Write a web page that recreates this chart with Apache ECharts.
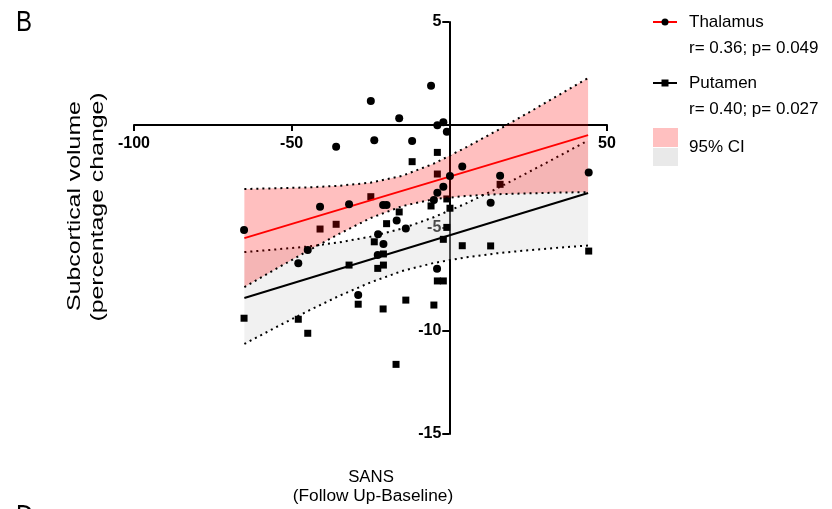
<!DOCTYPE html>
<html>
<head>
<meta charset="utf-8">
<script src="https://cdn.jsdelivr.net/npm/echarts@6/dist/echarts.min.js"></script>
<style>
    html, body { margin: 0; padding: 0; background: #fff; }
    #chart { width: 832px; height: 509px; }
</style>
</head>
<body>
<div id="chart"></div>
<script>
// SANS change vs. subcortical volume change
const thalamusPoints = [
    [-65.1, -5.10], [-47.9, -6.71], [-44.9, -6.07], [-41.0, -3.97], [-35.9, -1.05],
    [-31.8, -3.85], [-28.9, -8.25], [-24.9, 1.17], [-23.8, -0.74], [-22.6, -5.30],
    [-20.9, -5.78], [-22.7, -6.31], [-21.0, -3.88], [-19.9, -3.88], [-16.7, -4.64],
    [-15.9, 0.33], [-13.8, -5.02], [-11.8, -0.78], [-5.8, 1.91], [-4.9, -3.64],
    [-3.8, -0.01], [-3.8, -3.29], [-3.9, -6.98], [-1.9, 0.13], [-1.9, -3.00],
    [-0.8, -0.33], [0.2, -2.48], [4.1, -2.02], [13.1, -3.77], [16.1, -2.46],
    [44.2, -2.30]
];
const putamenPoints = [
    [-65.1, -9.38], [-47.9, -9.43], [-44.9, -10.11], [-41.0, -5.05], [-35.9, -4.82],
    [-31.8, -6.80], [-28.9, -8.70], [-24.9, -3.48], [-23.8, -5.67], [-22.7, -6.96],
    [-20.9, -6.26], [-20.9, -6.80], [-21.0, -8.93], [-19.9, -4.79], [-16.9, -11.62],
    [-15.9, -4.22], [-13.8, -8.50], [-11.8, -1.78], [-5.8, -3.93], [-4.9, -8.74],
    [-3.8, -1.33], [-3.8, -2.38], [-3.8, -7.57], [-1.9, -5.55], [-1.9, -7.57],
    [-0.8, -4.97], [-0.8, -3.59], [0.2, -4.04], [4.1, -5.86], [13.1, -5.87],
    [16.1, -2.88], [44.2, -6.12]
];

// regression lines
const fitX = [-65, 44];
const thalamusFit = [-5.49, -0.49];
const putamenFit = [-8.40, -3.30];

// 95% confidence bands
const ciX = [-65, -55, -45, -35, -25, -15, -5, 5, 15, 25, 35, 44];
const thalamusUpper = [-3.11, -3.07, -3.03, -2.95, -2.80, -2.47, -1.88, -1.11, -0.28, 0.59, 1.48, 2.28];
const thalamusLower = [-7.87, -6.99, -6.12, -5.29, -4.52, -3.94, -3.60, -3.45, -3.36, -3.32, -3.28, -3.26];
const putamenUpper = [-6.17, -6.04, -5.90, -5.70, -5.42, -5.03, -4.48, -3.83, -3.09, -2.30, -1.49, -0.75];
const putamenLower = [-10.63, -9.82, -9.04, -8.30, -7.64, -7.09, -6.70, -6.43, -6.23, -6.08, -5.95, -5.85];

const legendItems = [
    { name: 'Thalamus', stat: 'r= 0.36; p= 0.049', color: '#ff0000', symbol: 'circle' },
    { name: 'Putamen', stat: 'r= 0.40; p= 0.027', color: '#000000', symbol: 'square' }
];

const font = 'Liberation Sans, Arial, sans-serif';
const pink = 'rgba(255,0,0,0.25)';
const grey = 'rgba(215,215,215,0.35)';

const zip = (xs, ys) => xs.map((x, i) => [x, ys[i]]);

function band(upper, lower, color, z) {
    return {
        type: 'custom',
        z: z,
        silent: true,
        data: [0],
        renderItem(params, api) {
            const pts = [];
            ciX.forEach((x, i) => pts.push(api.coord([x, upper[i]])));
            for (let i = ciX.length - 1; i >= 0; i--) {
                pts.push(api.coord([ciX[i], lower[i]]));
            }
            return { type: 'polygon', shape: { points: pts }, style: { fill: color } };
        }
    };
}

function dotted(values, z) {
    return {
        type: 'line',
        z: z,
        data: zip(ciX, values),
        symbol: 'none',
        lineStyle: { color: '#000', width: 2, type: [2, 4] }
    };
}

function fitLine(values, color, z) {
    return {
        type: 'line',
        z: z,
        data: zip(fitX, values),
        symbol: 'none',
        lineStyle: { color: color, width: 2 }
    };
}

const chart = echarts.init(document.getElementById('chart'));

const hideZero = v => (v === 0 ? '' : String(v));

const legendGraphics = [];
legendItems.forEach((item, i) => {
    const y = 22 + i * 61;
    legendGraphics.push(
        { type: 'line', shape: { x1: 653, y1: y, x2: 677, y2: y }, style: { stroke: item.color, lineWidth: 2 } },
        item.symbol === 'circle'
            ? { type: 'circle', shape: { cx: 665, cy: y, r: 3.5 }, style: { fill: '#000' } }
            : { type: 'rect', shape: { x: 661.5, y: y - 3.5, width: 7, height: 7 }, style: { fill: '#000' } },
        { type: 'text', x: 689, y: y, style: { text: item.name, font: '17px ' + font, fill: '#000', verticalAlign: 'middle' } },
        { type: 'text', x: 689, y: y + 26, style: { text: item.stat, font: '17px ' + font, fill: '#000', verticalAlign: 'middle' } }
    );
});
legendGraphics.push(
    { type: 'rect', shape: { x: 653, y: 128, width: 25, height: 19 }, style: { fill: '#ffc0c0' } },
    { type: 'rect', shape: { x: 653, y: 148, width: 25, height: 18 }, style: { fill: '#e9e9e9' } },
    { type: 'text', x: 689, y: 147, style: { text: '95% CI', font: '17px ' + font, fill: '#000', verticalAlign: 'middle' } }
);

chart.setOption({
    animation: false,
    grid: { left: 134, right: 225, top: 22, bottom: 75 },
    xAxis: {
        type: 'value',
        min: -100,
        max: 50,
        interval: 50,
        position: 'bottom',
        offset: -309, // sits on y = 0
        splitLine: { show: false },
        axisLine: { onZero: false, lineStyle: { color: '#000', width: 2 } },
        axisTick: { length: 6, lineStyle: { color: '#000', width: 2 } },
        axisLabel: { margin: 11, color: '#000', fontWeight: 'bold', fontSize: 16, fontFamily: font, formatter: hideZero }
    },
    yAxis: {
        type: 'value',
        min: -15,
        max: 5,
        interval: 5,
        position: 'left',
        offset: -315.3, // sits on x = 0
        splitLine: { show: false },
        axisLine: { onZero: false, lineStyle: { color: '#000', width: 2 } },
        axisTick: { length: 7, lineStyle: { color: '#000', width: 2 } },
        axisLabel: { margin: 8, color: '#000', fontWeight: 'bold', fontSize: 16, fontFamily: font, formatter: hideZero }
    },
    graphic: [
        { type: 'text', x: 16, y: 8, scaleX: 0.8, style: { text: 'B', font: '30px ' + font, fill: '#000' } },
        { type: 'text', x: 16, y: 502, scaleX: 0.8, style: { text: 'D', font: '30px ' + font, fill: '#000' } },
        { type: 'text', x: 75, y: 206, rotation: Math.PI / 2, scaleX: 1.38,
          style: { text: 'Subcortical volume', font: '18px ' + font, fill: '#000', align: 'center', verticalAlign: 'middle' } },
        { type: 'text', x: 98, y: 207, rotation: Math.PI / 2, scaleX: 1.38,
          style: { text: '(percentage change)', font: '18px ' + font, fill: '#000', align: 'center', verticalAlign: 'middle' } },
        { type: 'text', x: 371, y: 478, scaleX: 1.05,
          style: { text: 'SANS', font: '16px ' + font, fill: '#000', align: 'center', verticalAlign: 'middle' } },
        { type: 'text', x: 373, y: 497, scaleX: 1.08,
          style: { text: '(Follow Up-Baseline)', font: '16px ' + font, fill: '#000', align: 'center', verticalAlign: 'middle' } }
    ].concat(legendGraphics),
    series: [
        band(putamenUpper, putamenLower, grey, 2),
        dotted(putamenUpper, 3),
        dotted(putamenLower, 3),
        fitLine(putamenFit, '#000', 3),
        {
            name: 'Putamen',
            type: 'scatter',
            z: 3,
            data: putamenPoints,
            symbol: 'rect',
            symbolSize: 7,
            itemStyle: { color: '#000', opacity: 1 }
        },
        band(thalamusUpper, thalamusLower, pink, 4),
        dotted(thalamusUpper, 5),
        dotted(thalamusLower, 5),
        fitLine(thalamusFit, '#ff0000', 5),
        {
            name: 'Thalamus',
            type: 'scatter',
            z: 6,
            data: thalamusPoints,
            symbol: 'circle',
            symbolSize: 8,
            itemStyle: { color: '#000', opacity: 1 }
        }
    ]
});
</script>
</body>
</html>
